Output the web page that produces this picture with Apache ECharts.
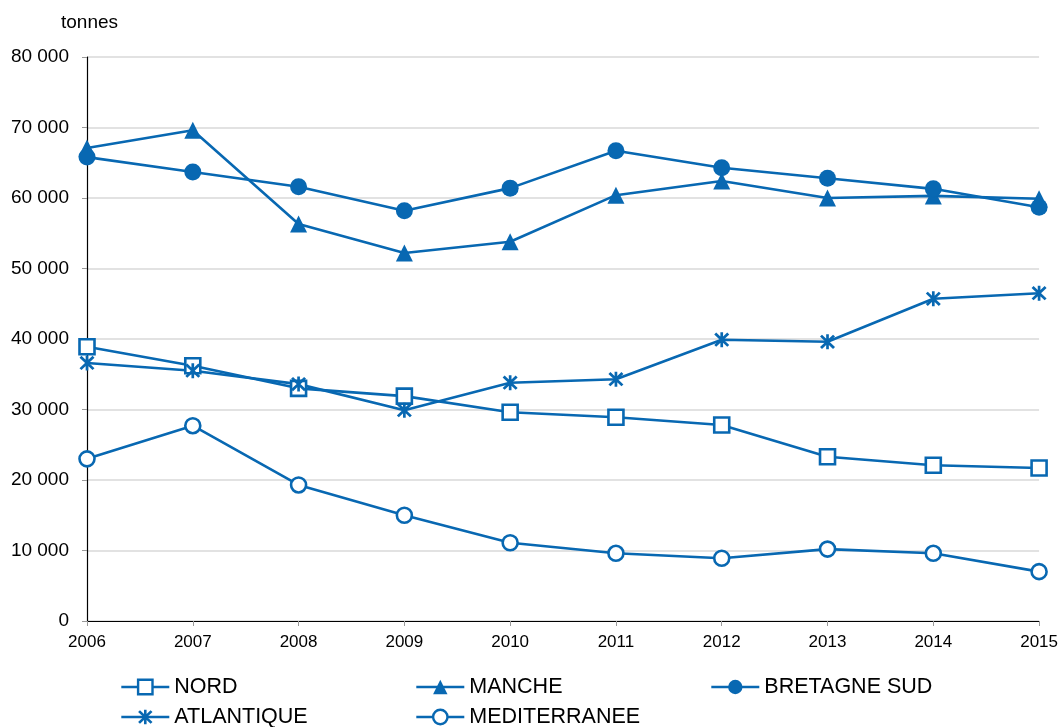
<!DOCTYPE html>
<html><head><meta charset="utf-8">
<script src="https://cdn.jsdelivr.net/npm/echarts@6/dist/echarts.min.js"></script>
<style>html,body{margin:0;padding:0;background:#fff}#c{width:1061px;height:727px}</style>
</head><body><div id="c"></div>
<script>
const years = ['2006','2007','2008','2009','2010','2011','2012','2013','2014','2015'];
const nord = [38900,36200,33000,31900,29600,28900,27800,23300,22100,21700];
const manche = [67100,69600,56300,52200,53800,60400,62400,60000,60300,59900];
const bretagneSud = [65800,63700,61600,58200,61400,66700,64300,62800,61300,58700];
const atlantique = [36600,35500,33600,29900,33800,34300,39900,39600,45700,46500];
const mediterranee = [23000,27700,19300,15000,11100,9600,8900,10200,9600,7000];
const yTicks = [0,10000,20000,30000,40000,50000,60000,70000,80000];

const BLUE = '#0868B2';
const FONT = 'Liberation Sans, Arial, sans-serif';
const star = 'path://M8.3 0 L11.7 0 L11.7 20 L8.3 20 Z M0.5 3 L3 0.5 L19.5 17 L17 19.5 Z M17 0.5 L19.5 3 L3 19.5 L0.5 17 Z';

function mk(name, data, symbol, size, open) {
  return {
    name, type: 'line', data, symbol, symbolSize: size,
    lineStyle: {color: BLUE, width: 2.6},
    itemStyle: open ? {color: '#fff', borderColor: BLUE, borderWidth: 2.6} : {color: BLUE, borderWidth: 0},
    emphasis: {disabled: true}, animation: false
  };
}
function lg(name, left, top, open) {
  return {data: [{name, itemStyle: {borderWidth: open ? 2.4 : 0}}], left, top, itemWidth: 48, itemHeight: 18, itemGap: 4, padding: 0,
    lineStyle: {width: 2.6},
    textStyle: {fontFamily: FONT, fontSize: 21.5, color: '#000'}};
}
const chart = echarts.init(document.getElementById('c'));
chart.setOption({
  animation: false,
  grid: {left: 87, right: 19, top: 57, bottom: 106, containLabel: false},
  title: {text: 'tonnes', left: 61, top: 13, padding: 0, textStyle: {fontFamily: FONT, fontSize: 19, fontWeight: 'normal', color: '#000'}},
  xAxis: {type: 'category', data: years, boundaryGap: false,
    axisLine: {lineStyle: {color: '#000', width: 1.2}},
    axisTick: {show: true, alignWithLabel: true, length: 5, lineStyle: {color: '#999'}},
    axisLabel: {fontFamily: FONT, fontSize: 17, color: '#000', margin: 13}},
  yAxis: {type: 'value', min: 0, max: 80000, interval: 10000,
    axisLine: {show: true, lineStyle: {color: '#000', width: 1.2}},
    axisTick: {show: true, length: 5, lineStyle: {color: '#999'}},
    splitLine: {lineStyle: {color: '#d9d9d9', width: 1.5}},
    axisLabel: {fontFamily: FONT, fontSize: 19, color: '#000', margin: 18,
      formatter: v => yTicks.includes(v) ? String(v).replace(/\B(?=(\d{3})+(?!\d))/g, ' ') : ''}},
  legend: [
    lg('NORD', 120, 676, true), lg('MANCHE', 415, 676, false), lg('BRETAGNE SUD', 710, 676, false),
    lg('ATLANTIQUE', 120, 706, false), lg('MEDITERRANEE', 415, 706, true)
  ],
  series: [
    mk('NORD', nord, 'rect', 15, true),
    mk('MANCHE', manche, 'triangle', 17, false),
    mk('BRETAGNE SUD', bretagneSud, 'circle', 17, false),
    mk('ATLANTIQUE', atlantique, star, 15, false),
    mk('MEDITERRANEE', mediterranee, 'circle', 15, true)
  ]
});
</script></body></html>
